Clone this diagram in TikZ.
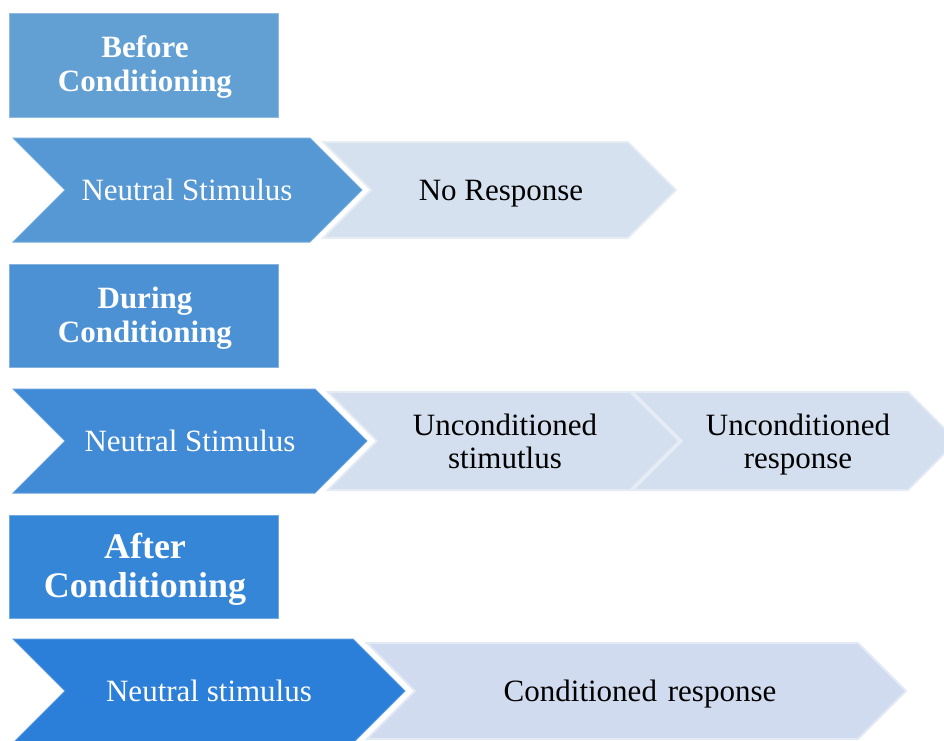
\documentclass[tikz,border=0pt]{standalone}
\usepackage{fontspec}
\setmainfont{Liberation Serif}
\definecolor{hdrA}{HTML}{629FD2}
\definecolor{hdrB}{HTML}{4C91D3}
\definecolor{hdrC}{HTML}{3586D6}
\definecolor{darkA}{HTML}{5598D3}
\definecolor{darkB}{HTML}{418AD6}
\definecolor{darkC}{HTML}{2C7FD8}
\definecolor{paleA}{HTML}{D5E1EF}
\definecolor{paleB}{HTML}{D3DEEE}
\definecolor{paleC}{HTML}{D1DBEF}
\tikzset{
  stagebox/.style={fill=#1, draw=#1!70!white, line width=1pt},
  darkchev/.style={fill=#1, draw=#1!80!white, line width=1pt},
  palechev/.style={fill=#1, draw=#1!60!white, line width=2pt},
  stagetext/.style={text=white, font=\bfseries\fontsize{31}{34}\selectfont, align=center, inner sep=0pt},
  bigstagetext/.style={text=white, font=\bfseries\fontsize{36}{38.5}\selectfont, align=center, inner sep=0pt},
  lighttext/.style={text=white, font=\fontsize{31}{33}\selectfont, align=center, inner sep=0pt},
  plaintext/.style={text=black, font=\fontsize{31}{33}\selectfont, align=center, inner sep=0pt}
}
% chevron: left x, corner x, top y, bottom y, style
\newcommand{\chevshape}[5]{%
  \pgfmathsetmacro{\cmid}{(#3+#4)/2}%
  \pgfmathsetmacro{\chalf}{(#4-#3)/2}%
  \draw[#5] (#1,#3) -- (#2,#3) -- ({#2+\chalf},\cmid) -- (#2,#4) -- (#1,#4) -- ({#1+\chalf},\cmid) -- cycle;%
}
\begin{document}
\begin{tikzpicture}[x=1pt,y=-1pt]
\useasboundingbox (0,0) rectangle (944,740);
\clip (0,0) rectangle (944,740);

% stage headers
\draw[stagebox=hdrA] (9,13) rectangle (278,117);
\draw[stagebox=hdrB] (9,264) rectangle (278,367);
\draw[stagebox=hdrC] (9,515) rectangle (278,618);
\node[stagetext] (before) at (145,67.5) {Before\\Conditioning};
\node[stagetext] (during) at (145,318.5) {During\\Conditioning};
\node[bigstagetext] (after) at (145,569.5) {After\\Conditioning};

% before conditioning
\chevshape{323}{628}{142}{238}{palechev=paleA}
\chevshape{13}{310}{138}{242}{darkchev=darkA}
\node[lighttext] (nsA) at (187,190) {Neutral Stimulus};
\node[plaintext] (noresp) at (501,194) {No Response};

% during conditioning
\chevshape{633}{908}{392}{490}{palechev=paleB}
\chevshape{328}{630}{392}{490}{palechev=paleB}
\chevshape{13}{315}{389}{493}{darkchev=darkB}
\node[lighttext] (nsB) at (190,441) {Neutral Stimulus};
\node[plaintext] (ucs) at (505,441.5) {Unconditioned\\stimutlus};
\node[plaintext] (ucr) at (798,445) {Unconditioned\\response};

% after conditioning
\chevshape{367}{858}{643}{739}{palechev=paleC}
\chevshape{13}{353}{639}{743}{darkchev=darkC}
\node[lighttext] (nsC) at (209,691) {Neutral stimulus};
\node[plaintext] (cr) at (640,694) {Conditioned\hspace{0.35em}response};
\end{tikzpicture}
\end{document}
